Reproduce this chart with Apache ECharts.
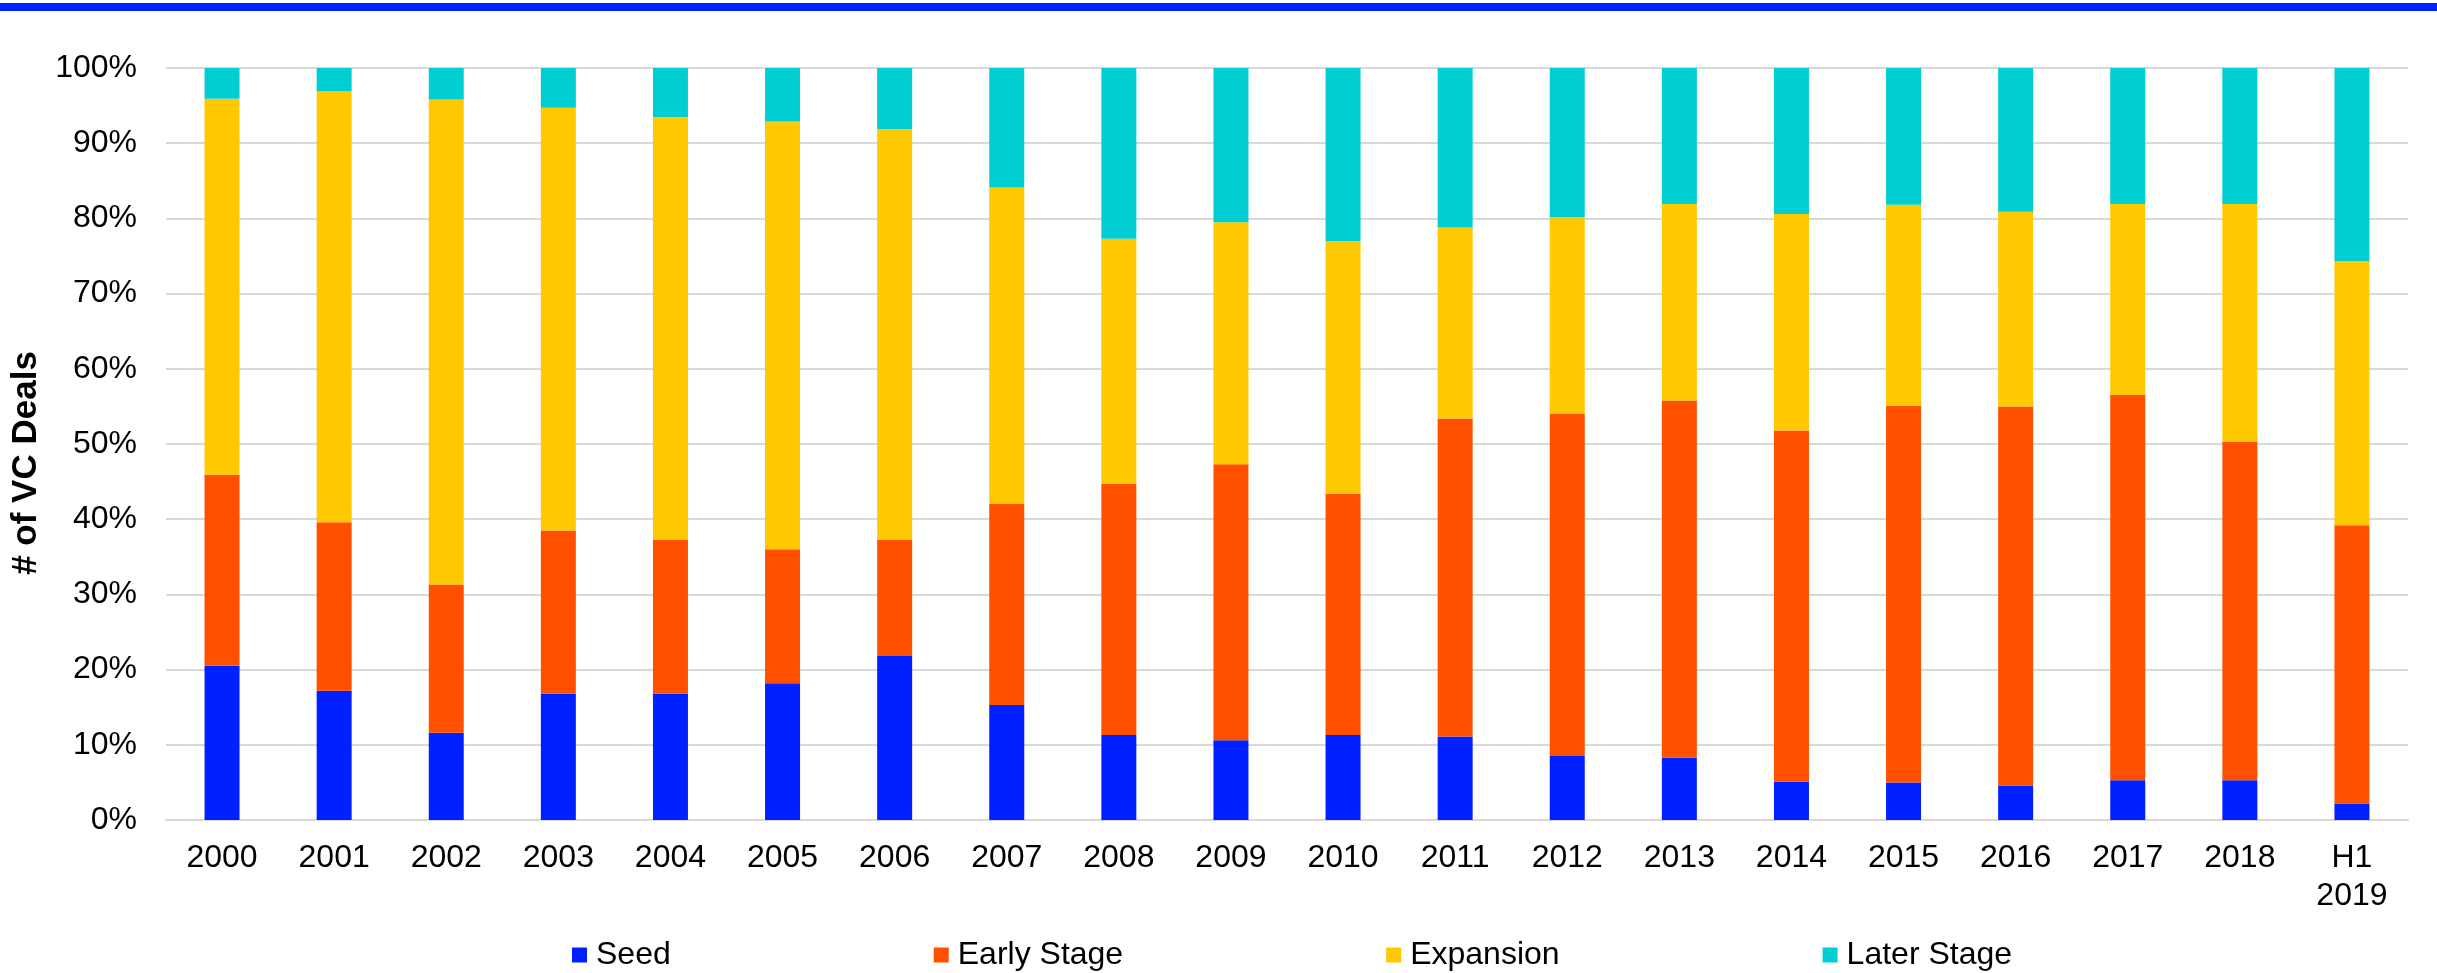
<!DOCTYPE html>
<html>
<head>
<meta charset="utf-8">
<title># of VC Deals by Stage</title>
<script src="https://cdn.jsdelivr.net/npm/echarts@6/dist/echarts.min.js"></script>
<style>
  html, body { margin: 0; padding: 0; background: #ffffff; }
  #chart { width: 2437px; height: 973px; }
</style>
</head>
<body>
<div id="chart"></div>
<script>
// Share of VC deals by stage, per year (percent of deal count)
const categories = ['2000', '2001', '2002', '2003', '2004', '2005', '2006', '2007', '2008', '2009',
  '2010', '2011', '2012', '2013', '2014', '2015', '2016', '2017', '2018', 'H1\n2019'];

const seed       = [20.5, 17.2, 11.6, 16.8, 16.8, 18.2, 21.8, 15.3, 11.3, 10.6, 11.3, 11.1, 8.5, 8.3, 5.1, 5.0, 4.6, 5.3, 5.3, 2.2];
const earlyStage = [25.4, 22.4, 19.7, 21.7, 20.5, 17.8, 15.5, 26.8, 33.4, 36.7, 32.1, 42.3, 45.5, 47.5, 46.7, 50.1, 50.4, 51.2, 45.0, 37.0];
const expansion  = [50.0, 57.3, 64.5, 56.2, 56.2, 56.9, 54.6, 42.0, 32.6, 32.2, 33.6, 25.4, 26.2, 26.1, 28.8, 26.7, 25.9, 25.4, 31.6, 35.1];
const laterStage = [4.1, 3.1, 4.2, 5.3, 6.5, 7.1, 8.1, 15.9, 22.7, 20.5, 23.0, 21.2, 19.8, 18.1, 19.4, 18.2, 19.1, 18.1, 18.1, 25.7];

const yTicks = { min: 0, max: 100, interval: 10 };

const FONT = '"Liberation Sans", Arial, Helvetica, sans-serif';

const chart = echarts.init(document.getElementById('chart'), null, { renderer: 'canvas' });

function stack(name, data, color) {
  return {
    name: name,
    type: 'bar',
    stack: 'total',
    barWidth: 35,
    data: data,
    itemStyle: { color: color },
    emphasis: { disabled: true }
  };
}

chart.setOption({
  animation: false,
  backgroundColor: '#ffffff',
  textStyle: { fontFamily: FONT },
  // blue rule across the top of the page
  graphic: [{
    type: 'rect',
    left: 0,
    top: 3,
    shape: { width: 2437, height: 8 },
    style: { fill: '#0022ff' }
  }],
  grid: { left: 166, right: 29, top: 68, bottom: 153, containLabel: false },
  legend: {
    left: 572,
    top: 939,
    padding: 0,
    itemGap: 263,
    itemWidth: 15,
    itemHeight: 15,
    icon: 'rect',
    textStyle: { fontFamily: FONT, fontSize: 32, color: '#000000', lineHeight: 32, padding: [0, 0, 0, 4] },
    data: ['Seed', 'Early Stage', 'Expansion', 'Later Stage']
  },
  xAxis: {
    type: 'category',
    data: categories,
    axisLine: { show: true, lineStyle: { color: '#d9d9d9', width: 2 } },
    axisTick: { show: false },
    axisLabel: { fontFamily: FONT, fontSize: 32, color: '#000000', margin: 19, lineHeight: 38, interval: 0 }
  },
  yAxis: {
    type: 'value',
    min: yTicks.min,
    max: yTicks.max,
    interval: yTicks.interval,
    name: '# of VC Deals',
    nameLocation: 'middle',
    nameGap: 112,
    nameRotate: 90,
    nameTextStyle: { fontFamily: FONT, fontSize: 35, fontWeight: 'bold', color: '#000000', padding: [0, 38, 0, 0] },
    axisLine: { show: false },
    axisTick: { show: false },
    splitLine: { lineStyle: { color: '#d9d9d9', width: 2 } },
    axisLabel: { fontFamily: FONT, fontSize: 32, color: '#000000', margin: 29, formatter: '{value}%' }
  },
  series: [
    stack('Seed', seed, '#0020ff'),
    stack('Early Stage', earlyStage, '#ff5000'),
    stack('Expansion', expansion, '#ffc800'),
    stack('Later Stage', laterStage, '#00ced3')
  ]
});
</script>
</body>
</html>
